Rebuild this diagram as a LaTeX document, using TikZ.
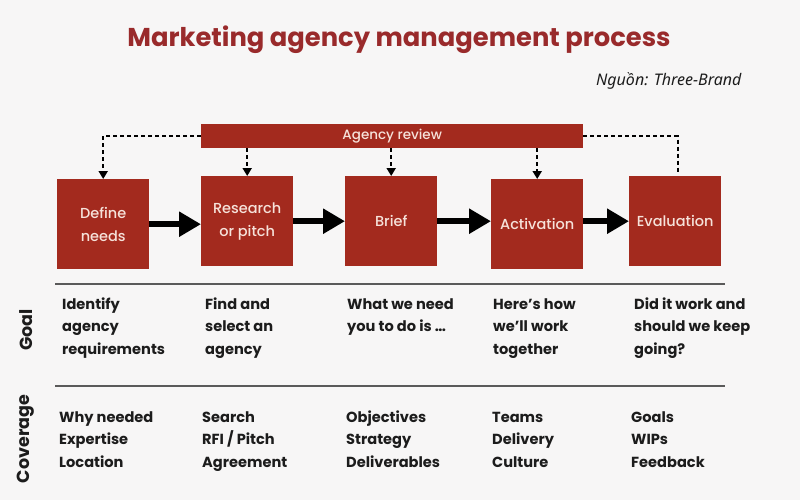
\documentclass[tikz,border=0pt]{standalone}
\usepackage{fontspec}
\setmainfont{Poppins}[BoldFont={Poppins Bold}]
\newfontfamily\popbold{Poppins Bold}
\newfontfamily\popmed{Poppins Medium}
\newfontfamily\srcfont{Noto Sans}
\usetikzlibrary{arrows.meta}
\definecolor{bgc}{HTML}{F7F6F6}
\definecolor{boxred}{HTML}{A32A1E}
\definecolor{titlered}{HTML}{992A2B}
\definecolor{boxtxt}{HTML}{F6E2DA}
\definecolor{ink}{HTML}{1C1C1C}
\definecolor{rule}{HTML}{5A5A5A}
\tikzset{
  stepbox/.style={fill=boxred, draw=none, minimum width=92pt, minimum height=90pt, inner sep=0pt,
    anchor=north west, align=center, text=boxtxt, font=\popmed\fontsize{14.5}{23}\selectfont},
  reviewbar/.style={fill=boxred, draw=none, minimum width=382pt, minimum height=24pt, inner sep=0pt,
    anchor=north west, text=boxtxt, font=\popmed\fontsize{13.5}{16}\selectfont},
  flowarrow/.style={line width=6pt, -{Triangle[width=24pt,length=22pt]}},
  dasharrow/.style={line width=2pt, dash pattern=on 4pt off 3pt, -{Triangle[width=9pt,length=8pt]}},
  dashline/.style={line width=2pt, dash pattern=on 4pt off 3pt},
  celltext/.style={anchor=base west, align=left, inner sep=0pt, text=ink,
    font=\bfseries\fontsize{14.6}{22.5}\selectfont},
  sidelabel/.style={rotate=90, text=ink, font=\bfseries\fontsize{17.5}{20}\selectfont},
  hrule/.style={draw=rule, line width=2pt}
}
\begin{document}
\begin{tikzpicture}[x=1pt,y=-1pt]
\fill[bgc] (0,0) rectangle (800,500);
\useasboundingbox (0,0) rectangle (800,500);
% title
\node[anchor=base, text=titlered, font=\popbold\fontsize{25.8}{30}\selectfont] (title) at (399,47) {Marketing agency management process};
\node[anchor=base east, text=ink, font=\srcfont\itshape\fontsize{16}{18}\selectfont] (src) at (745,86) {Nguồn: Three-Brand};
% review bar
\node[reviewbar] (rev) at (201,124) {Agency review};
% step boxes
\node[stepbox] (n1) at (57,179) {Define\\needs};
\node[stepbox] (n2) at (201,176) {Research\\or pitch};
\node[stepbox] (n3) at (345,176) {Brief};
\node[stepbox] (n4) at (491,179) {Activation};
\node[stepbox] (n5) at (629,176) {Evaluation};
% flow arrows
\draw[flowarrow] (n1.east) -- (n1.east -| n2.west);
\draw[flowarrow] (n2.east) -- (n3.west);
\draw[flowarrow] (n3.east) -- (n3.east -| n4.west);
\draw[flowarrow] (n5.west -| n4.east) -- (n5.west);
% review dashed arrows
\draw[dasharrow] (rev.west) -| (n1.north);
\draw[dasharrow] (n2.north |- rev.south) -- (n2.north);
\draw[dasharrow] (n3.north |- rev.south) -- (n3.north);
\draw[dasharrow] (n4.north |- rev.south) -- (n4.north);
\coordinate (evtop) at (678,172);
\draw[dashline] (rev.east) -| (evtop);
% rules
\coordinate (r1a) at (55,284); \coordinate (r1b) at (725,284);
\coordinate (r2a) at (55,386); \coordinate (r2b) at (725,386);
\draw[hrule] (r1a) -- (r1b);
\draw[hrule] (r2a) -- (r2b);
% side labels
\node[sidelabel] (goal) at (26,330) {Goal};
\node[sidelabel] (cov) at (26,439) {Coverage};
% goal texts (anchored at the baseline of their last line)
\node[celltext] (g1) at (62,354) {Identify\\agency\\requirements};
\node[celltext] (g2) at (205,354) {Find and\\select an\\agency};
\node[celltext] (g3) at (347,331.5) {What we need\\you to do is …};
\node[celltext] (g4) at (493,354) {Here’s how\\we’ll work\\together};
\node[celltext] (g5) at (634,354) {Did it work and\\should we keep\\going?};
% coverage texts
\node[celltext] (c1) at (59,467) {Why needed\\Expertise\\Location};
\node[celltext] (c2) at (202,467) {Search\\RFI / Pitch\\Agreement};
\node[celltext] (c3) at (346,467) {Objectives\\Strategy\\Deliverables};
\node[celltext] (c4) at (492,467) {Teams\\Delivery\\Culture};
\node[celltext] (c5) at (631,467) {Goals\\WIPs\\Feedback};
\end{tikzpicture}
\end{document}
